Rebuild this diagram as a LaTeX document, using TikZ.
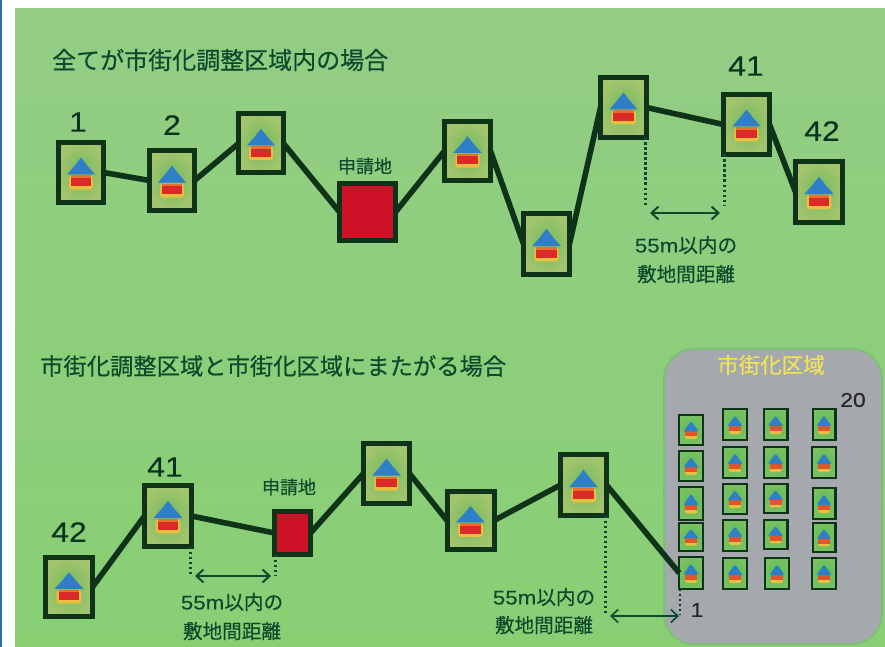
\documentclass[tikz,border=0pt]{standalone}
\usepackage{fontspec}
\setmainfont{Noto Sans CJK JP}[FakeBold=0.35]
\newfontfamily\latf{Liberation Sans}[FakeStretch=1.14,FakeBold=0.2]
\usetikzlibrary{arrows.meta}
\definecolor{inkgreen}{HTML}{0B4A2C}
\definecolor{framegreen}{HTML}{0E3319}
\definecolor{roofblue}{HTML}{2F7FC8}
\definecolor{redbody}{HTML}{DC2A28}
\definecolor{orangeband}{HTML}{E8702C}
\definecolor{lotred}{HTML}{CE1228}
\definecolor{halo}{HTML}{E8C040}
\definecolor{lotinner}{HTML}{70BA60}
\definecolor{lotouter}{HTML}{A2C46C}
\definecolor{smallinner}{HTML}{5CBC5C}
\definecolor{smallouter}{HTML}{78C060}
\definecolor{bgtop}{HTML}{93CD84}
\definecolor{bgbottom}{HTML}{88CF74}
\definecolor{greyarea}{HTML}{A5A9AD}
\definecolor{greyedge}{HTML}{7DBE78}
\definecolor{yellowtext}{HTML}{F1E455}
\definecolor{edgeblue}{HTML}{2A6CB0}
\tikzset{
  bigbox/.style={draw=framegreen,inner sep=0pt,outer sep=0pt,inner color=lotinner,outer color=lotouter,line width=5pt},
  smallbox/.style={draw=framegreen,inner sep=0pt,outer sep=0pt,inner color=smallinner,outer color=smallouter,line width=2.4pt},
  redlot/.style={draw=framegreen,fill=lotred,line width=5pt,inner sep=0pt,outer sep=0pt},
  link/.style={draw=framegreen,line width=5.6pt},
  dots/.style={draw=inkgreen,line width=3pt,dash pattern=on 2.6pt off 2.4pt},
  span/.style={draw=inkgreen,line width=2pt,{Straight Barb[length=7pt,width=13pt]}-{Straight Barb[length=7pt,width=13pt]}},
  head/.style={text=inkgreen,font=\fontsize{24}{26}\selectfont,inner sep=0pt},
  head2/.style={text=inkgreen,font=\fontsize{23.3}{26}\selectfont,inner sep=0pt},
  note/.style={text=inkgreen,font=\fontsize{19.6}{21}\selectfont,inner sep=0pt},
  num/.style={text=inkgreen!70!black,font=\latf\fontsize{28}{30}\selectfont,inner sep=0pt},
}
\newcommand{\houseat}[4]{%
  \begin{scope}[shift={(#1,#2)},xscale=#3/50,yscale=#4/65]
    \fill[halo,rounded corners=3pt] (-12,3) rectangle (12,17);
    \fill[orangeband] (-10,3) rectangle (10,6);
    \fill[redbody] (-10,5.5) rectangle (10,13.5);
    \fill[roofblue] (0,-15) -- (7,-6) -- (14,2) -- (-14,2) -- (-7,-6) -- cycle;
  \end{scope}}
\newcommand{\minihouse}[4]{%
  \begin{scope}[shift={(#1,#2)},xscale=#3/26,yscale=#4/33]
    \fill[halo,rounded corners=2pt] (-6,2) rectangle (6,9.5);
    \fill[orangeband!60!redbody] (-6,1) rectangle (6,6.5);
    \fill[roofblue,rounded corners=1.5pt] (0,-9) -- (7,0.5) -- (7,1.5) -- (-7,1.5) -- (-7,0.5) -- cycle;
  \end{scope}}
\newcommand{\bigh}[5]{%
  \node[bigbox,minimum width=#4*1pt-5pt,minimum height=#5*1pt-5pt] (#1) at (#2,#3) {};
  \houseat{#2}{#3}{#4}{#5}}
\newcommand{\smallh}[5]{%
  \node[smallbox,minimum width=#4*1pt-2.4pt,minimum height=#5*1pt-2.4pt] (#1) at (#2,#3) {};
  \minihouse{#2}{#3}{#4}{#5}}
\begin{document}
\begin{tikzpicture}[x=1pt,y=-1pt]
\useasboundingbox (0,0) rectangle (885,647);
\fill[white] (0,0) rectangle (885,647);
\fill[edgeblue] (0,0) rectangle (2,647);
\shade[top color=bgtop,bottom color=bgbottom] (15,9) rectangle (885,647);
% urban area
\node[draw=greyedge,line width=2pt,fill=greyarea,rounded corners=30pt,minimum width=218pt,minimum height=295pt,inner sep=0pt] (urban) at (773,496.5) {};
% titles
\node[head,anchor=west] (t1) at (52,60) {全てが市街化調整区域内の場合};
\node[head2,anchor=west] (t2) at (40,366) {市街化調整区域と市街化区域にまたがる場合};
\node[font=\fontsize{21.5}{23}\selectfont,text=yellowtext,inner sep=0pt] (urbanlabel) at (771,365) {市街化区域};
% top row
\bigh{a1}{81}{172.5}{50}{65}
\bigh{a2}{172}{180.5}{50}{65}
\bigh{a3}{261}{143.5}{50}{64}
\node[redlot,minimum width=56pt,minimum height=57pt] (ared) at (367.5,212) {};
\bigh{a5}{467.5}{151}{51}{64}
\bigh{a6}{546.5}{244}{51}{66}
\bigh{a7}{623.5}{107.5}{51}{65}
\bigh{a8}{746.5}{124.5}{51}{65}
\bigh{a9}{819}{192}{52}{66}
\draw[link] (a1.east) -- (a2.west);
\draw[link] (a2.east) -- (a3.west);
\draw[link] (a3.east) -- (ared.west);
\draw[link] (ared.east) -- (a5.west);
\draw[link] (a5.east) -- (a6.west);
\draw[link] (a6.east) -- (a7.west);
\draw[link] (a7.east) -- (a8.west);
\draw[link] (a8.east) -- (a9.west);
\node[num] (n1) at (78,122) {1};
\node[num] (n2) at (172,125) {2};
\node[num] (n41) at (746,66) {41};
\node[num] (n42) at (822,131) {42};
\node[note] (areq) at (365,166) {\fontsize{18}{20}\selectfont 申請地};
\coordinate (ad1) at (649,206);
\coordinate (ad2) at (721,206);
\draw[dots] ([xshift=-1pt]a7.south east) -- ([xshift=-1pt]a7.south east |- ad1);
\draw[dots] ([xshift=1pt]a8.south west) -- ([xshift=1pt]a8.south west |- ad2);
\draw[span] (650,213) -- (720,213);
\node[note] (anote1) at (686,245) {{\latf 55m}以内の};
\node[note] (anote2) at (686,274) {敷地間距離};
% bottom row
\bigh{b1}{69}{587}{52}{64}
\bigh{b2}{168}{516}{52}{66}
\node[redlot,minimum width=36pt,minimum height=43pt] (bred) at (292.5,533) {};
\bigh{b4}{386.5}{473.5}{51}{65}
\bigh{b5}{470.5}{520.5}{52}{63}
\bigh{b6}{583.5}{485}{51}{66}
\draw[link] (b1.east) -- (b2.west);
\draw[link] (b2.east) -- (bred.west);
\draw[link] (bred.east) -- (b4.west);
\draw[link] (b4.east) -- (b5.west);
\draw[link] (b5.east) -- (b6.west);
\node[num] (m41) at (165,467) {41};
\node[num] (m42) at (69,532) {42};
\node[note] (breq) at (289,487) {\fontsize{18}{20}\selectfont 申請地};
\coordinate (bd1) at (194,575);
\coordinate (bd2) at (272,575);
\draw[dots] ([xshift=-1pt]b2.south east) -- ([xshift=-1pt]b2.south east |- bd1);
\draw[dots] ([xshift=1pt]bred.south west) -- ([xshift=1pt]bred.south west |- bd2);
\draw[span] (195,576) -- (271,576);
\node[note] (bnote1) at (232,602) {{\latf 55m}以内の};
\node[note] (bnote2) at (232,631) {敷地間距離};
% urban lots
\foreach \n/\x/\y/\w/\h in {
  c1/691/430/26/32, c2/691/466/26/32, c3/691/503.5/26/35, c4/691/537/26/30, c5/691/573/26/34,
  d1/735/424.5/26/33, d2/735/462.5/26/33, d3/735/499/26/32, d4/735/535.5/26/33, d5/735/573.5/26/33,
  e1/775.5/424.5/26/33, e2/775.5/462.5/26/33, e3/775.5/498.5/26/31, e4/775.5/534.5/26/31, e5/777/573.5/26/33,
  f1/824/424.5/25/33, f2/824/462.5/26/33, f3/824/503.5/25/33, f4/824/537.5/25/31, f5/824/573.5/26/33}{
  \smallh{\n}{\x}{\y}{\w}{\h}
}
\draw[link] (b6.east) -- (c5.west);
\node[font=\latf\fontsize{20}{22}\selectfont,text=black!85,inner sep=0pt] (count20) at (853,400) {20};
\node[font=\latf\fontsize{20}{22}\selectfont,text=black!85,inner sep=0pt] (count1) at (697,610) {1};
\coordinate (cd1) at (609,614);
\coordinate (cd2) at (678,614);
\draw[dots] ([xshift=-1pt]b6.south east) -- ([xshift=-1pt]b6.south east |- cd1);
\draw[dots,line width=2pt,draw=framegreen] ([xshift=1pt]c5.south west) -- ([xshift=1pt]c5.south west |- cd2);
\draw[span,line width=1.6pt] (610,616) -- (679,616);
\node[note] (cnote1) at (544,597) {{\latf 55m}以内の};
\node[note] (cnote2) at (544,625) {敷地間距離};
\end{tikzpicture}
\end{document}
